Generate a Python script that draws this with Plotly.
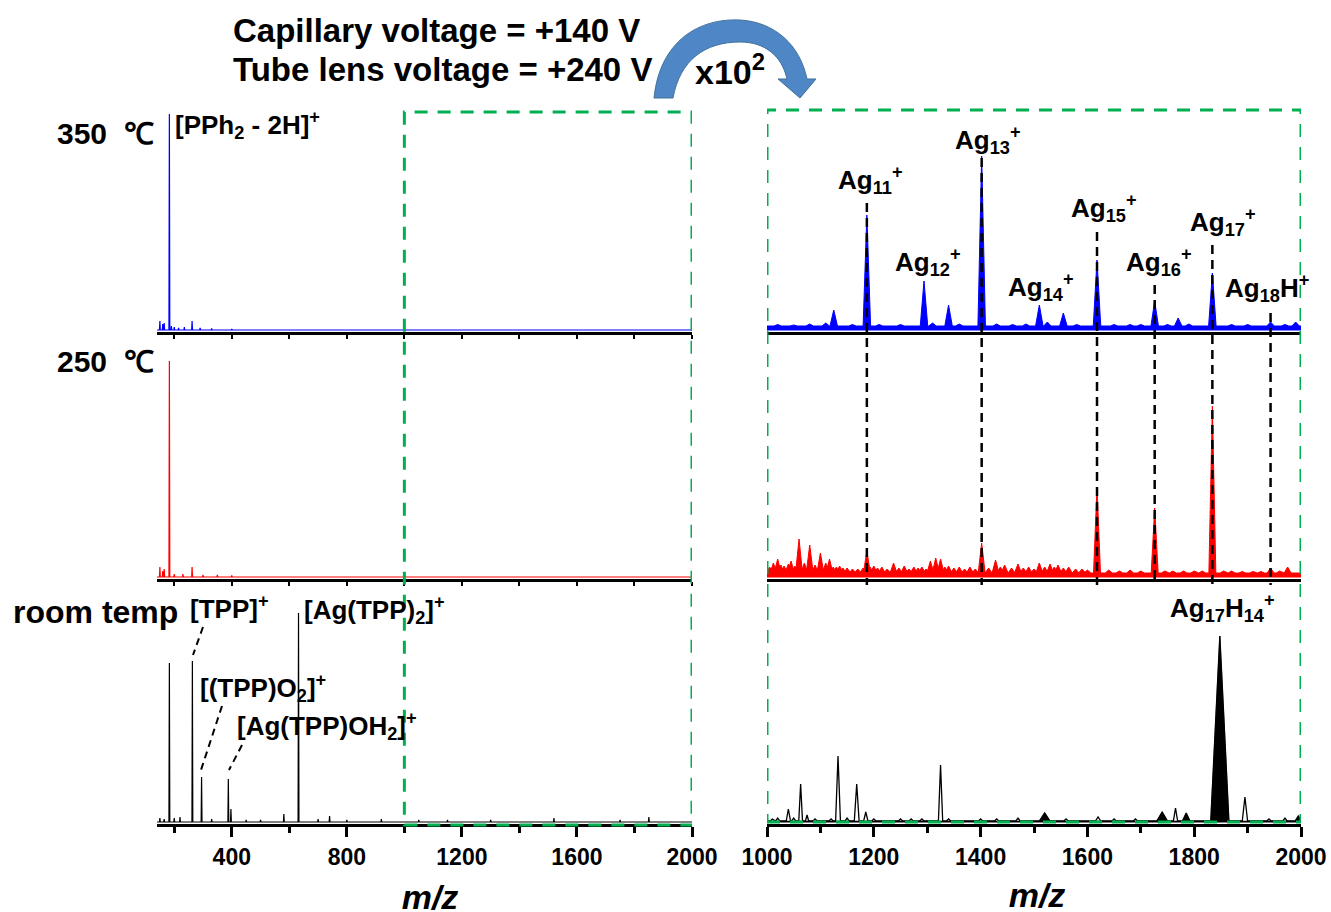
import plotly.graph_objects as go
from plotly.subplots import make_subplots

W, H = 1331, 912

# ---------------- data (m/z, intensity in a.u.) ----------------
# Left column: full-range spectra
t350_mz  = [150, 160, 165, 183, 190, 200, 215, 235, 262, 290, 330, 400, 1000]
t350_int = [9, 6, 7, 216, 4, 3, 2, 3, 9, 2, 1.5, 1, 2]

t250_mz  = [150, 160, 165, 183, 200, 230, 262, 300, 350, 400, 1000]
t250_int = [10, 6, 8, 216, 3, 3, 10, 2, 2, 1.5, 2]

trt_mz  = [150, 165, 183, 200, 220, 263, 295, 330, 388, 397, 450, 500, 581, 632,
           700, 740, 800, 920, 1050, 1150, 1300, 1520, 1750, 1850]
trt_int = [4, 3, 159, 4, 5, 161, 45, 3, 43, 13, 2, 2, 8, 209,
           3, 6, 2, 3, 2, 2, 2, 4, 2, 5]

# Right column: x100 zoom of m/z 1000-2000
z350_mz  = [1020, 1050, 1080, 1110, 1125, 1160, 1187, 1210, 1250, 1294, 1310, 1340,
            1360, 1402, 1430, 1460, 1485, 1510, 1525, 1555, 1580, 1618, 1650, 1680,
            1700, 1726, 1750, 1770, 1790, 1834, 1870, 1900, 1943, 1970, 1990]
z350_int = [1.5, 1, 2, 3, 16, 1.5, 111, 1.5, 1.5, 45, 3, 21,
            2, 170, 2, 1.5, 2, 21, 4, 13, 1.5, 66, 1.5, 1.5,
            1.5, 25, 1.5, 8, 2, 53, 1.5, 1.5, 4, 1.5, 4]

z250_mz  = [1005, 1012, 1020, 1026, 1032, 1040, 1045, 1052, 1060, 1070, 1080, 1090,
            1100, 1110, 1117, 1124, 1130, 1136, 1142, 1150, 1160, 1170, 1180, 1187,
            1193, 1200, 1207, 1215, 1225, 1237, 1247, 1257, 1266, 1275, 1283, 1290,
            1298, 1306, 1316, 1325, 1333, 1340, 1350, 1360, 1370, 1380, 1390, 1402,
            1415, 1428, 1437, 1445, 1458, 1470, 1480, 1490, 1500, 1510, 1520, 1530,
            1538, 1545, 1555, 1565, 1578, 1590, 1600, 1618, 1640, 1660, 1680, 1700,
            1726, 1745, 1760, 1780, 1800, 1815, 1834, 1855, 1870, 1890, 1910, 1925,
            1943, 1960, 1975]
z250_int = [6, 10, 14, 8, 7, 9, 12, 7, 34, 10, 28, 8,
            20, 10, 14, 6, 6, 7, 5, 5, 4, 4, 5, 22,
            6, 7, 5, 6, 4, 10, 5, 7, 4, 6, 5, 6,
            4, 12, 15, 14, 6, 7, 5, 6, 4, 6, 4, 30,
            5, 13, 6, 8, 5, 9, 5, 6, 4, 10, 6, 9,
            6, 8, 5, 6, 4, 4, 3, 86, 3, 2, 3, 2,
            65, 2, 2, 2, 2, 2, 167, 2, 2, 1.5, 1.5, 1.5,
            5, 2, 6]

zrt_mz  = [1010, 1020, 1040, 1050, 1063, 1075, 1090, 1120, 1133, 1150, 1168, 1185,
           1200, 1250, 1270, 1290, 1325, 1340, 1400, 1430, 1470, 1520, 1560, 1620,
           1650, 1690, 1740, 1765, 1785, 1848, 1895, 1940, 1970, 1995]
zrt_int = [2, 3, 12, 3, 37, 6, 2, 2, 65, 3, 37, 9,
           2, 2, 2, 2, 56, 2, 2, 2, 3, 8, 2, 4,
           2, 2, 9, 13, 8, 185, 24, 2, 3, 5]
zrt_hw  = [4, 4, 4, 4, 3.5, 3, 4, 4, 4.5, 4, 4.5, 4,
           4, 4, 4, 4, 4, 4, 4, 4, 4, 10, 4, 5,
           4, 4, 10, 4, 7, 17, 5, 4, 4, 6]
zrt_filled_mz = [1520, 1740, 1785, 1848, 1995]

ag_mz = [1187, 1402, 1618, 1726, 1834, 1943]
ag_labels = ["Ag<sub>11</sub><sup>+</sup>", "Ag<sub>12</sub><sup>+</sup>",
             "Ag<sub>13</sub><sup>+</sup>", "Ag<sub>14</sub><sup>+</sup>",
             "Ag<sub>15</sub><sup>+</sup>", "Ag<sub>16</sub><sup>+</sup>",
             "Ag<sub>17</sub><sup>+</sup>", "Ag<sub>18</sub>H<sup>+</sup>"]

left_ticks = [400, 800, 1200, 1600, 2000]
left_minor = [200, 600, 1000, 1400, 1800]
right_ticks = [1000, 1200, 1400, 1600, 1800, 2000]
right_minor = [1100, 1300, 1500, 1700, 1900]


# ---------------- helpers ----------------
def px(x, y):
    return x / W, 1 - y / H


def peaks(mz, inten, hw, base, lo, hi):
    if not isinstance(hw, list):
        hw = [hw] * len(mz)
    xs, ys = [lo], [base]
    for c, h, w in sorted(zip(mz, inten, hw)):
        xs += [c - w, c, c + w]
        ys += [base, base + h, base]
    xs.append(hi)
    ys.append(base)
    return xs, ys


FONT = "Liberation Sans, Arial, sans-serif"

fig = make_subplots(rows=3, cols=2)

# left column
for row, (mz, it, col) in enumerate([(t350_mz, t350_int, "#0000FF"),
                                     (t250_mz, t250_int, "#FF0000"),
                                     (trt_mz, trt_int, "#000000")], start=1):
    xs, ys = peaks(mz, it, 1.5, 0.5, 140, 2000)
    fig.add_trace(go.Scatter(x=xs, y=ys, mode="lines", line=dict(color=col, width=1.2),
                             hoverinfo="skip"), row=row, col=1)

# right column
xs, ys = peaks(z350_mz, z350_int, 7, 4.5, 1000, 2000)
fig.add_trace(go.Scatter(x=xs, y=ys, mode="lines", line=dict(color="#0000FF", width=1),
                         fill="tozeroy", fillcolor="#0000FF", hoverinfo="skip"), row=1, col=2)
xs, ys = peaks(z250_mz, z250_int, 6.5, 4.5, 1000, 2000)
fig.add_trace(go.Scatter(x=xs, y=ys, mode="lines", line=dict(color="#FF0000", width=1),
                         fill="tozeroy", fillcolor="#FF0000", hoverinfo="skip"), row=2, col=2)
fmz = [m for m in zrt_mz if m in zrt_filled_mz]
fint = [i for m, i in zip(zrt_mz, zrt_int) if m in zrt_filled_mz]
fhw = [w for m, w in zip(zrt_mz, zrt_hw) if m in zrt_filled_mz]
xs, ys = peaks(fmz, fint, fhw, 1.5, 1000, 2000)
fig.add_trace(go.Scatter(x=xs, y=ys, mode="lines", line=dict(color="#000000", width=0.5),
                         fill="tozeroy", fillcolor="#000000", hoverinfo="skip"), row=3, col=2)
xs, ys = peaks(zrt_mz, zrt_int, zrt_hw, 1.5, 1000, 2000)
fig.add_trace(go.Scatter(x=xs, y=ys, mode="lines", line=dict(color="#000000", width=1.3),
                         hoverinfo="skip"), row=3, col=2)

# ---------------- axes ----------------
xl = [157 / W, 692 / W]
xr = [767 / W, 1301 / W]
rows_px = [(85, 332), (332, 579), (579, 824)]
tickfont = dict(family=FONT, size=23, color="black", weight="bold")

for r, (top, bot) in enumerate(rows_px, start=1):
    for c in (1, 2):
        idx = (r - 1) * 2 + c
        xa = "xaxis" if idx == 1 else f"xaxis{idx}"
        ya = "yaxis" if idx == 1 else f"yaxis{idx}"
        xd = dict(domain=xl if c == 1 else xr,
                  range=[140, 2000] if c == 1 else [1000, 2000],
                  showline=True, linewidth=3, linecolor="black", automargin=False,
                  showgrid=False, zeroline=False, fixedrange=True)
        if r < 3:
            xd.update(showticklabels=False)
            if c == 1:
                xd.update(ticks="outside", ticklen=4, tickwidth=2, tickcolor="black",
                          tickmode="linear", tick0=0, dtick=200)
            else:
                xd.update(ticks="")
        else:
            xd.update(ticks="outside", ticklen=10, tickwidth=3, tickcolor="black",
                      tickmode="array",
                      tickvals=left_ticks if c == 1 else right_ticks,
                      ticktext=[str(v) for v in (left_ticks if c == 1 else right_ticks)],
                      tickfont=tickfont,
                      minor=dict(ticks="outside", ticklen=6, tickwidth=3, tickcolor="black",
                                 tickvals=left_minor if c == 1 else right_minor))
        fig.layout[xa].update(xd)
        fig.layout[ya].update(dict(domain=[1 - bot / H, 1 - top / H],
                                   range=[-1.5, (bot - top) - 1.5], automargin=False,
                                   visible=False, fixedrange=True))

# ---------------- shapes ----------------
GREEN = "#00B050"
shapes = []
shapes.append(dict(type="rect", xref="x5", yref="paper", x0=1000, x1=2000,
                   y0=px(0, 825)[1], y1=px(0, 112)[1],
                   line=dict(color=GREEN, width=3, dash="13px,10px")))
shapes.append(dict(type="rect", xref="x6", yref="paper", x0=1000, x1=2000,
                   y0=px(0, 822)[1], y1=px(0, 110)[1],
                   line=dict(color=GREEN, width=3, dash="13px,10px")))
line_tops = [203, 158, 232, 285, 245, 313]
for m, t in zip(ag_mz, line_tops):
    shapes.append(dict(type="line", xref="x2", yref="paper", x0=m, x1=m,
                       y0=px(0, t)[1], y1=px(0, 585)[1],
                       line=dict(color="black", width=2.5, dash="9px,6px")))
for (x0, y0, x1, y1) in [(203, 627, 193, 655), (222, 706, 201, 770), (242, 745, 229, 770)]:
    a = px(x0, y0); b = px(x1, y1)
    shapes.append(dict(type="line", xref="paper", yref="paper", x0=a[0], y0=a[1],
                       x1=b[0], y1=b[1], line=dict(color="black", width=2, dash="7px,5px")))

# curved arrow
def P(x, y):
    a = px(x, y)
    return f"{a[0]:.5f},{a[1]:.5f}"

path = ("M " + P(654, 98) + " C " + P(660, 40) + " " + P(700, 18) + " " + P(740, 20) +
        " C " + P(775, 22) + " " + P(800, 45) + " " + P(807, 79) +
        " L " + P(816, 79) + " L " + P(800, 98) + " L " + P(778, 79) + " L " + P(787, 79) +
        " C " + P(782, 56) + " " + P(765, 42) + " " + P(740, 42) +
        " C " + P(705, 42) + " " + P(680, 60) + " " + P(673, 98) + " Z")
shapes.append(dict(type="path", xref="paper", yref="paper", path=path,
                   fillcolor="#4F86C6", line=dict(color="#41719C", width=1), layer="above"))

# ---------------- annotations ----------------
def ann(text, x, y, size, xanchor="left", italic=False, pad=0, width=None):
    a = px(x, y)
    d = dict(text=(f"<i>{text}</i>" if italic else text), x=a[0], y=a[1],
             xref="paper", yref="paper", xanchor=xanchor, yanchor="middle",
             showarrow=False, borderpad=pad,
             font=dict(family=FONT, size=size, color="black", weight="bold"))
    if width:
        d["width"] = width
    return d

annotations = [
    ann("Capillary voltage = +140 V", 232, 31, 33),
    ann("Tube lens voltage = +240 V", 232, 70, 33),
    ann("x10<sup>2</sup>", 694, 70, 34),
    ann("350  ℃", 56, 133, 30),
    ann("250  ℃", 56, 362, 30),
    ann("room temp", 12, 612, 32),
    ann("[PPh<sub>2</sub> - 2H]<sup>+</sup>", 174, 125, 26),
    ann("[TPP]<sup>+</sup>", 189, 607, 26),
    ann("[Ag(TPP)<sub>2</sub>]<sup>+</sup>", 303, 610, 26),
    ann("[(TPP)O<sub>2</sub>]<sup>+</sup>", 199, 688, 26),
    ann("[Ag(TPP)OH<sub>2</sub>]<sup>+</sup>", 236, 726, 26),
    ann("Ag<sub>17</sub>H<sub>14</sub><sup>+</sup>", 1169, 608, 26),
    ann("m/z", 430, 897, 34, xanchor="center", italic=True, pad=4, width=90),
    ann("m/z", 1037, 895, 34, xanchor="center", italic=True, pad=4, width=90),
]
ag_label_pos = [(837, 180), (894, 262), (954, 140), (1007, 287), (1070, 208),
                (1125, 262), (1189, 222), (1224, 288)]
for t, (x, y) in zip(ag_labels, ag_label_pos):
    annotations.append(ann(t, x, y, 26))

fig.update_layout(width=W, height=H,
                  margin=dict(l=0, r=0, t=0, b=0, pad=0, autoexpand=False),
                  paper_bgcolor="white", plot_bgcolor="white", showlegend=False,
                  font=dict(family=FONT, color="black"),
                  shapes=shapes, annotations=annotations)

fig.write_html("out.html")
